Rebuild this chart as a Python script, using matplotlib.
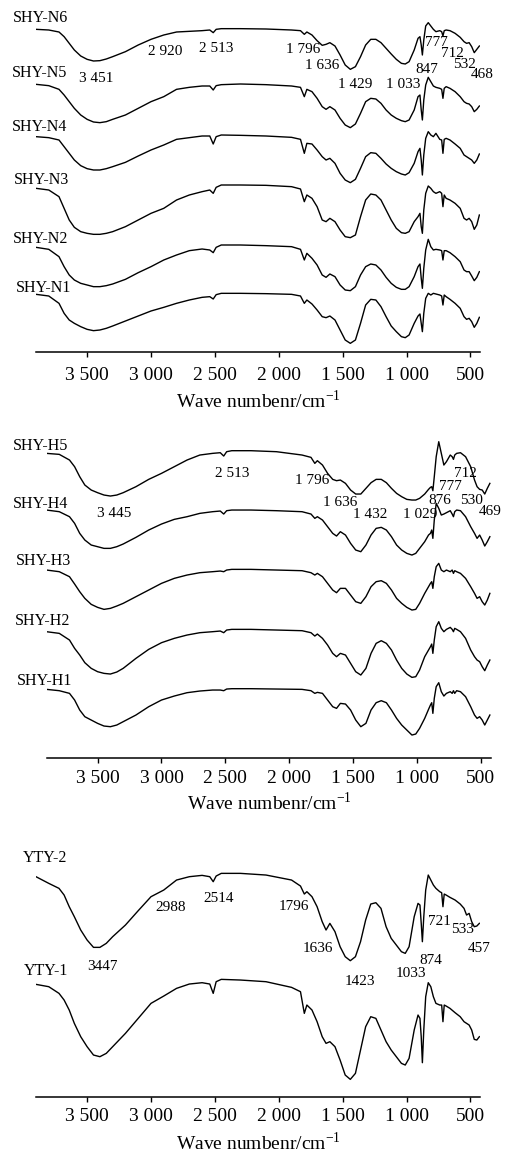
import matplotlib
matplotlib.use('Agg')
import matplotlib.pyplot as plt

# wavenumber grid (cm-1) used for all spectra
wn = [3900, 3800, 3720, 3680, 3640, 3600, 3550, 3500, 3450, 3400,
      3350, 3300, 3200, 3100, 3000, 2900, 2800, 2700, 2600, 2540,
      2513, 2490, 2450, 2300, 2100, 1900, 1830, 1800, 1780, 1740,
      1700, 1660, 1630, 1600, 1560, 1520, 1480, 1440, 1400, 1360,
      1320, 1280, 1240, 1200, 1160, 1120, 1080, 1040, 1010, 980,
      940, 910, 895, 885, 876, 865, 850, 830, 810, 790,
      770, 740, 725, 715, 705, 690, 660, 620, 580, 550,
      530, 510, 490, 470, 450, 430]

# transmittance (arbitrary units, start of each curve = 100)
shy_n6 = [100, 98, 92, 78, 58, 38, 20, 10, 5, 6,
          11, 18, 33, 53, 70, 83, 92, 94, 96, 98,
          90, 100, 102, 102, 101, 98, 96, 85, 92, 83,
          66, 52, 55, 60, 50, 23, -7, -20, -12, 18,
          53, 70, 70, 60, 43, 26, 10, -2, -4, 3,
          38, 73, 78, 53, 23, 68, 110, 120, 110, 100,
          93, 96, 93, 80, 96, 98, 96, 88, 76, 63,
          58, 60, 48, 30, 40, 50]
shy_n5 = [100, 96, 85, 68, 48, 28, 8, -5, -13, -15,
          -12, -5, 8, 28, 48, 63, 85, 91, 95, 95,
          83, 96, 99, 101, 99, 95, 91, 63, 85, 78,
          58, 33, 25, 33, 23, -2, -22, -30, -19, 13,
          48, 58, 56, 43, 23, 8, -2, -9, -12, -7,
          23, 63, 68, 23, -7, 53, 98, 121, 108, 95,
          91, 88, 85, 58, 88, 93, 88, 78, 63, 48,
          43, 41, 33, 18, 25, 35]
shy_n4 = [100, 97, 90, 70, 50, 30, 13, 4, 0, 0,
          4, 10, 23, 42, 60, 75, 92, 97, 102, 102,
          78, 100, 105, 104, 102, 98, 92, 50, 80, 78,
          60, 40, 30, 35, 20, -10, -30, -38, -28, 5,
          40, 52, 50, 35, 18, 5, -5, -12, -15, -8,
          20, 55, 65, 30, -15, 45, 95, 115, 105, 100,
          110, 92, 90, 50, 92, 95, 90, 78, 65, 45,
          40, 35, 30, 20, 30, 48]
shy_n3 = [100, 95, 75, 40, 5, -17, -30, -35, -38, -38,
          -35, -30, -15, 5, 25, 40, 65, 80, 90, 95,
          85, 103, 110, 110, 109, 105, 98, 60, 80, 70,
          45, 5, 0, 10, 0, -25, -45, -48, -40, 15,
          65, 83, 80, 65, 35, 5, -20, -33, -35, -30,
          0, 15, 25, -15, -35, 35, 85, 107, 100, 90,
          85, 90, 85, 45, 80, 70, 65, 55, 40, 10,
          5, 10, 0, -23, -10, 20]
shy_n2 = [100, 94, 72, 42, 17, 2, -8, -13, -18, -18,
          -15, -10, 4, 24, 42, 62, 77, 90, 95, 92,
          84, 100, 107, 107, 105, 102, 94, 62, 82, 67,
          47, 17, 10, 20, 12, -13, -28, -30, -18, 17,
          42, 50, 47, 32, 10, -8, -20, -26, -26, -18,
          12, 42, 50, 7, -23, 37, 92, 124, 102, 92,
          94, 92, 90, 62, 90, 90, 84, 72, 57, 32,
          27, 27, 14, 0, 10, 27]
shy_n1 = [100, 95, 73, 43, 23, 13, 3, -5, -9, -7,
          -2, 5, 20, 35, 50, 61, 73, 83, 91, 93,
          86, 99, 103, 103, 102, 100, 95, 73, 83, 71,
          53, 33, 30, 35, 23, -7, -37, -47, -37, 13,
          68, 85, 83, 63, 33, 5, -12, -27, -30, -22,
          13, 35, 41, 13, -12, 43, 88, 103, 98, 103,
          101, 98, 95, 68, 98, 93, 85, 73, 58, 33,
          25, 28, 18, 1, 13, 31]

shy_h5 = [100, 97, 80, 60, 30, 5, -10, -18, -25, -28,
          -25, -18, 0, 22, 40, 60, 80, 95, 100, 102,
          92, 105, 108, 108, 105, 95, 88, 70, 78, 65,
          40, 22, 18, 20, 10, -10, -22, -22, -5, 12,
          22, 22, 12, -5, -20, -30, -38, -40, -40, -35,
          -22, -8, -2, 0, -12, 30, 90, 135, 100, 65,
          75, 95, 90, 82, 95, 100, 102, 90, 60, 20,
          0, -8, -10, -22, -5, 10]
shy_h4 = [100, 95, 80, 60, 30, 10, -5, -10, -15, -15,
          -10, -2, 18, 40, 58, 72, 80, 90, 95, 97,
          88, 98, 100, 100, 98, 95, 88, 75, 80, 70,
          50, 30, 22, 35, 25, 0, -20, -25, -5, 25,
          45, 48, 40, 20, -5, -20, -30, -35, -30, -15,
          5, 25, 30, 40, 15, 70, 120, 105, 85, 88,
          92, 98, 88, 80, 95, 100, 98, 80, 50, 30,
          15, 25, 10, -8, 5, 20]
shy_h3 = [100, 95, 80, 58, 35, 15, -3, -12, -18, -15,
          -8, 0, 20, 40, 60, 75, 85, 92, 95, 97,
          95, 100, 102, 102, 100, 98, 92, 85, 90, 80,
          60, 40, 32, 45, 45, 25, 5, 0, 20, 50,
          65, 68, 60, 40, 15, 0, -12, -20, -18, 0,
          30, 50, 60, 65, 45, 80, 110, 120, 100, 95,
          100, 95, 100, 90, 98, 95, 90, 75, 50, 30,
          15, 20, 5, -5, 10, 30]
shy_h2 = [100, 95, 75, 50, 30, 7, -10, -20, -25, -27,
          -21, -10, 20, 47, 67, 80, 90, 97, 100, 102,
          97, 105, 107, 107, 105, 103, 97, 87, 93, 80,
          60, 35, 25, 35, 30, 5, -20, -30, -10, 35,
          65, 73, 65, 45, 15, -10, -27, -37, -35, -15,
          25, 45, 55, 63, 35, 75, 115, 130, 110, 100,
          107, 113, 107, 100, 110, 107, 100, 80, 45, 25,
          15, 10, -5, -17, 0, 15]
shy_h1 = [100, 96, 88, 68, 38, 18, 8, -2, -10, -12,
          -7, 3, 23, 48, 68, 80, 90, 95, 98, 98,
          96, 101, 102, 102, 101, 100, 96, 88, 91, 88,
          68, 48, 43, 58, 56, 38, 8, -12, -2, 38,
          60, 66, 60, 38, 13, -7, -22, -37, -34, -17,
          13, 40, 53, 60, 28, 73, 108, 120, 93, 80,
          88, 93, 88, 96, 88, 96, 93, 78, 48, 23,
          13, 18, 8, -7, 8, 23]

yty_2 = [100, 80, 65, 45, 10, -20, -60, -90, -112, -112,
         -100, -80, -45, -2, 40, 60, 90, 100, 104, 100,
         85, 102, 110, 110, 105, 90, 72, 48, 55, 40,
         10, -35, -60, -40, -65, -110, -140, -152, -140, -95,
         -30, 18, 22, 5, -50, -85, -105, -125, -130, -110,
         -20, 20, 15, -40, -95, -20, 60, 105, 90, 75,
         65, 55, 52, 10, 48, 45, 38, 30, 18, 5,
         -15, -10, -35, -50, -48, -40]
yty_1 = [100, 93, 73, 53, 23, -17, -57, -87, -112, -117,
         -107, -87, -47, -2, 43, 65, 88, 101, 105, 101,
         73, 108, 115, 113, 108, 91, 78, 13, 38, 23,
         -12, -57, -77, -72, -87, -127, -172, -185, -167, -97,
         -27, 3, -2, -37, -72, -97, -117, -137, -142, -122,
         -37, 8, -2, -57, -135, -37, 63, 105, 93, 63,
         43, 38, 38, -12, 38, 35, 28, 15, 3, -12,
         -17, -22, -37, -65, -67, -57]

names_n = ['SHY-N6', 'SHY-N5', 'SHY-N4', 'SHY-N3', 'SHY-N2', 'SHY-N1']
names_h = ['SHY-H5', 'SHY-H4', 'SHY-H3', 'SHY-H2', 'SHY-H1']
names_y = ['YTY-2', 'YTY-1']

peaks_n = ['3 451', '2 920', '2 513', '1 796', '1 636', '1 429', '1 033',
           '847', '777', '712', '532', '468']
peaks_h = ['3 445', '2 513', '1 796', '1 636', '1 432', '1 029',
           '876', '777', '712', '530', '469']
peaks_y = ['3447', '2988', '2514', '1796', '1636', '1423', '1033',
           '874', '721', '533', '457']

tick_values = [3500, 3000, 2500, 2000, 1500, 1000, 500]
tick_labels = ['3 500', '3 000', '2 500', '2 000', '1 500', '1 000', '500']
xlabel = r'Wave numbenr/cm$^{\mathregular{-1}}$'

W, H = 508, 1152


def fx(x):
    return x / W


def fy(y):
    return 1 - y / H


def panel(fig, left, top, bottom, curves, offsets, pad):
    ax = fig.add_axes([fx(left), fy(bottom), 444 / W, (bottom - top) / H])
    for t, off in zip(curves, offsets):
        ax.plot(wn, [off + v for v in t], color='black', lw=1.0)
    ax.set_xlim(3900, 425)
    ax.set_ylim(0, (bottom - top) * 3)
    for s in ['top', 'left', 'right']:
        ax.spines[s].set_visible(False)
    ax.spines['bottom'].set_linewidth(1.1)
    ax.set_yticks([])
    ax.set_xticks(tick_values)
    ax.set_xticklabels(tick_labels)
    ax.tick_params(axis='x', direction='out', length=3.6, width=1.0,
                   labelsize=14, pad=pad)
    return ax


def labels(fig, names, pos, size):
    for txt, (x, y) in zip(names, pos):
        fig.text(fx(x), fy(y), txt, fontsize=size, ha='left', va='baseline')


def peaks(fig, names, pos):
    for txt, (x, y) in zip(names, pos):
        fig.text(fx(x), fy(y), txt, fontsize=11, ha='center', va='baseline')


def main():
    plt.rcParams['font.family'] = ['Liberation Serif', 'DejaVu Serif']
    fig = plt.figure(figsize=(W / 100, H / 100), dpi=100)

    # top panel: SHY-N
    panel(fig, 36, 5, 352,
          [shy_n6, shy_n5, shy_n4, shy_n3, shy_n2, shy_n1],
          [868, 703, 546, 391, 214, 73], 7.0)
    labels(fig, names_n, [(13, 21.7), (12, 76.7), (12, 131), (14, 184.3),
                          (13, 243.3), (16, 291.7)], 11.5)
    peaks(fig, peaks_n, [(96, 81.7), (164.7, 55), (216, 51.7), (303, 52.7),
                         (322.5, 69.3), (355, 88.3), (403.5, 88.3), (427, 73.3),
                         (436.5, 46), (452, 57), (464, 67.5), (482, 78.3)])
    fig.text(fx(258), fy(408), xlabel, fontsize=14, ha='center', va='baseline')

    # middle panel: SHY-H
    panel(fig, 46.5, 425, 757.7,
          [shy_h5, shy_h4, shy_h3, shy_h2, shy_h1],
          [813, 643, 463, 278, 105], 5.3)
    labels(fig, names_h, [(13.3, 450), (13.3, 508.3), (16, 565), (15, 625),
                          (17.3, 685)], 11.5)
    peaks(fig, peaks_h, [(113.8, 516.7), (232, 477.3), (311.7, 484), (339.7, 506),
                         (369.7, 518.3), (420, 518.3), (439.7, 504), (450.8, 490),
                         (465, 477), (471.3, 504), (490, 515)])
    fig.text(fx(269), fy(810), xlabel, fontsize=14, ha='center', va='baseline')

    # bottom panel: YTY
    panel(fig, 36, 840, 1096.7, [yty_2, yty_1], [560, 237], 4.8)
    labels(fig, names_y, [(23.3, 861.7), (24, 975)], 11.5)
    peaks(fig, peaks_y, [(102, 970), (171, 910.7), (218.7, 901.7), (293.8, 910),
                         (317.5, 951.7), (359.7, 985), (410.5, 977.3), (431.3, 964),
                         (439.5, 925), (462.3, 932.7), (478.7, 951.7)])
    fig.text(fx(258), fy(1150), xlabel, fontsize=14, ha='center', va='baseline')

    fig.savefig('out.png', dpi=100)


if __name__ == "__main__":
    main()
